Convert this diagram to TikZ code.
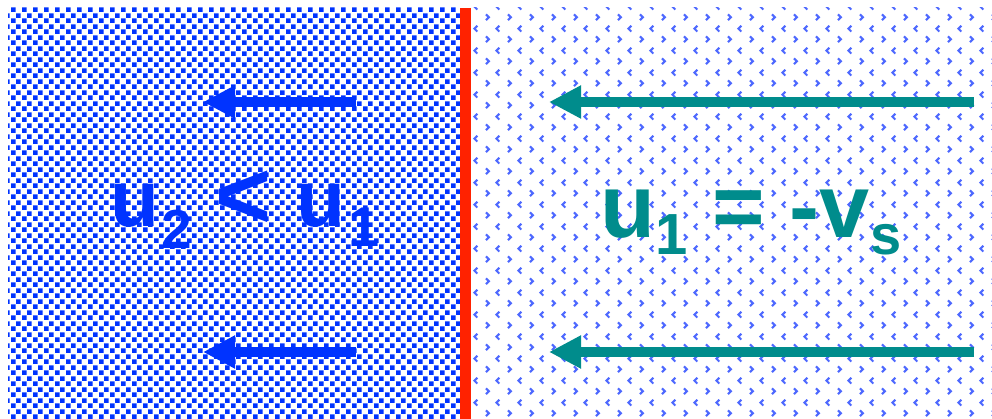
\documentclass[tikz,border=0pt]{standalone}
\usepackage{fontspec}
\setmainfont{Liberation Sans}
\usepackage{xcolor}
\definecolor{shockRed}{HTML}{FF2200}
\definecolor{flowBlue}{HTML}{0033FF}
\definecolor{dotBlue}{HTML}{2244FF}
\definecolor{flowTeal}{HTML}{008C8C}
\usepackage{tikz}
\usetikzlibrary{
    arrows.meta,
    patterns.meta,
    positioning
}
% Dense squares for the shocked gas
\tikzdeclarepattern{
    name=dense squares,
    type=uncolored,
    bounding box={(0pt,0pt) and (11pt,11pt)},
    tile size={(11pt,11pt)},
    code={
        \fill (0pt,0pt) rectangle (5pt,5pt);
        \fill (5.5pt,5.5pt) rectangle (10.5pt,10.5pt);
    }
}
% Sparse chevrons for the upstream gas
\tikzdeclarepattern{
    name=sparse chevrons,
    type=uncolored,
    bounding box={(0pt,0pt) and (22pt,22pt)},
    tile size={(22pt,22pt)},
    code={
        \draw[line width=2.2pt] (2pt,3pt) -- (5pt,6pt) -- (2pt,9pt);
        \draw[line width=2.2pt] (16pt,14pt) -- (13pt,17pt) -- (16pt,20pt);
    }
}
\tikzset{
    % Shocked gas behind the front
    shocked region/.style={
        pattern=dense squares,
        pattern color=flowBlue,
    },
    % Upstream gas in front of the shock
    upstream region/.style={
        pattern=sparse chevrons,
        pattern color=dotBlue!80,
    },
    % The shock front itself
    shock front/.style={
        draw=shockRed,
        line width=11pt,
    },
    % Big velocity labels
    flow label/.style={
        font=\bfseries\fontsize{80}{96}\selectfont,
        inner sep=0pt,
        anchor=base west,
    },
    % Thick flow arrows
    flow arrow/.style={
        -{Triangle[length=32pt, width=31pt]},
        line width=10pt,
    },
}

\begin{document}
\begin{tikzpicture}[x=1pt, y=-1pt]
    \useasboundingbox (0,0) rectangle (992,419);
    \fill[white] (0,0) rectangle (992,419);

    % gas regions and shock
    \path[shocked region] (8,8) rectangle (460,419);
    \path[upstream region] (471,8) rectangle (992,419);
    \draw[shock front] (465.5,8) -- (465.5,419);

    % labels
    \node (shocked_label) [flow label, text=flowBlue] at (110,227)
        {u\kern2pt\raisebox{-22pt}{\fontsize{55}{60}\selectfont 2}\kern2pt\ \raisebox{-2pt}{\fontsize{96}{100}\selectfont <}\kern2pt\ u\kern3pt\raisebox{-20pt}{\fontsize{56}{60}\selectfont 1}};
    \node (upstream_label) [flow label, text=flowTeal, font=\bfseries\fontsize{90}{100}\selectfont] at (600,238)
        {u\raisebox{-17pt}{\fontsize{58}{60}\selectfont 1} = -v\raisebox{-17pt}{\fontsize{56}{60}\selectfont s}};

    % arrow ends
    \coordinate (top_left_tail) at (356,102);
    \coordinate (top_left_head) at (203,102);
    \coordinate (low_left_tail) at (356,352);
    \coordinate (low_left_head) at (203,352);
    \coordinate (top_right_tail) at (974,102);
    \coordinate (top_right_head) at (549,102);
    \coordinate (low_right_tail) at (974,352);
    \coordinate (low_right_head) at (549,352);

    \draw [flow arrow, draw=flowBlue, fill=flowBlue] (top_left_tail) -- (top_left_head);
    \draw [flow arrow, draw=flowBlue, fill=flowBlue] (low_left_tail) -- (low_left_head);
    \draw [flow arrow, draw=flowTeal, fill=flowTeal] (top_right_tail) -- (top_right_head);
    \draw [flow arrow, draw=flowTeal, fill=flowTeal] (low_right_tail) -- (low_right_head);
\end{tikzpicture}
\end{document}
